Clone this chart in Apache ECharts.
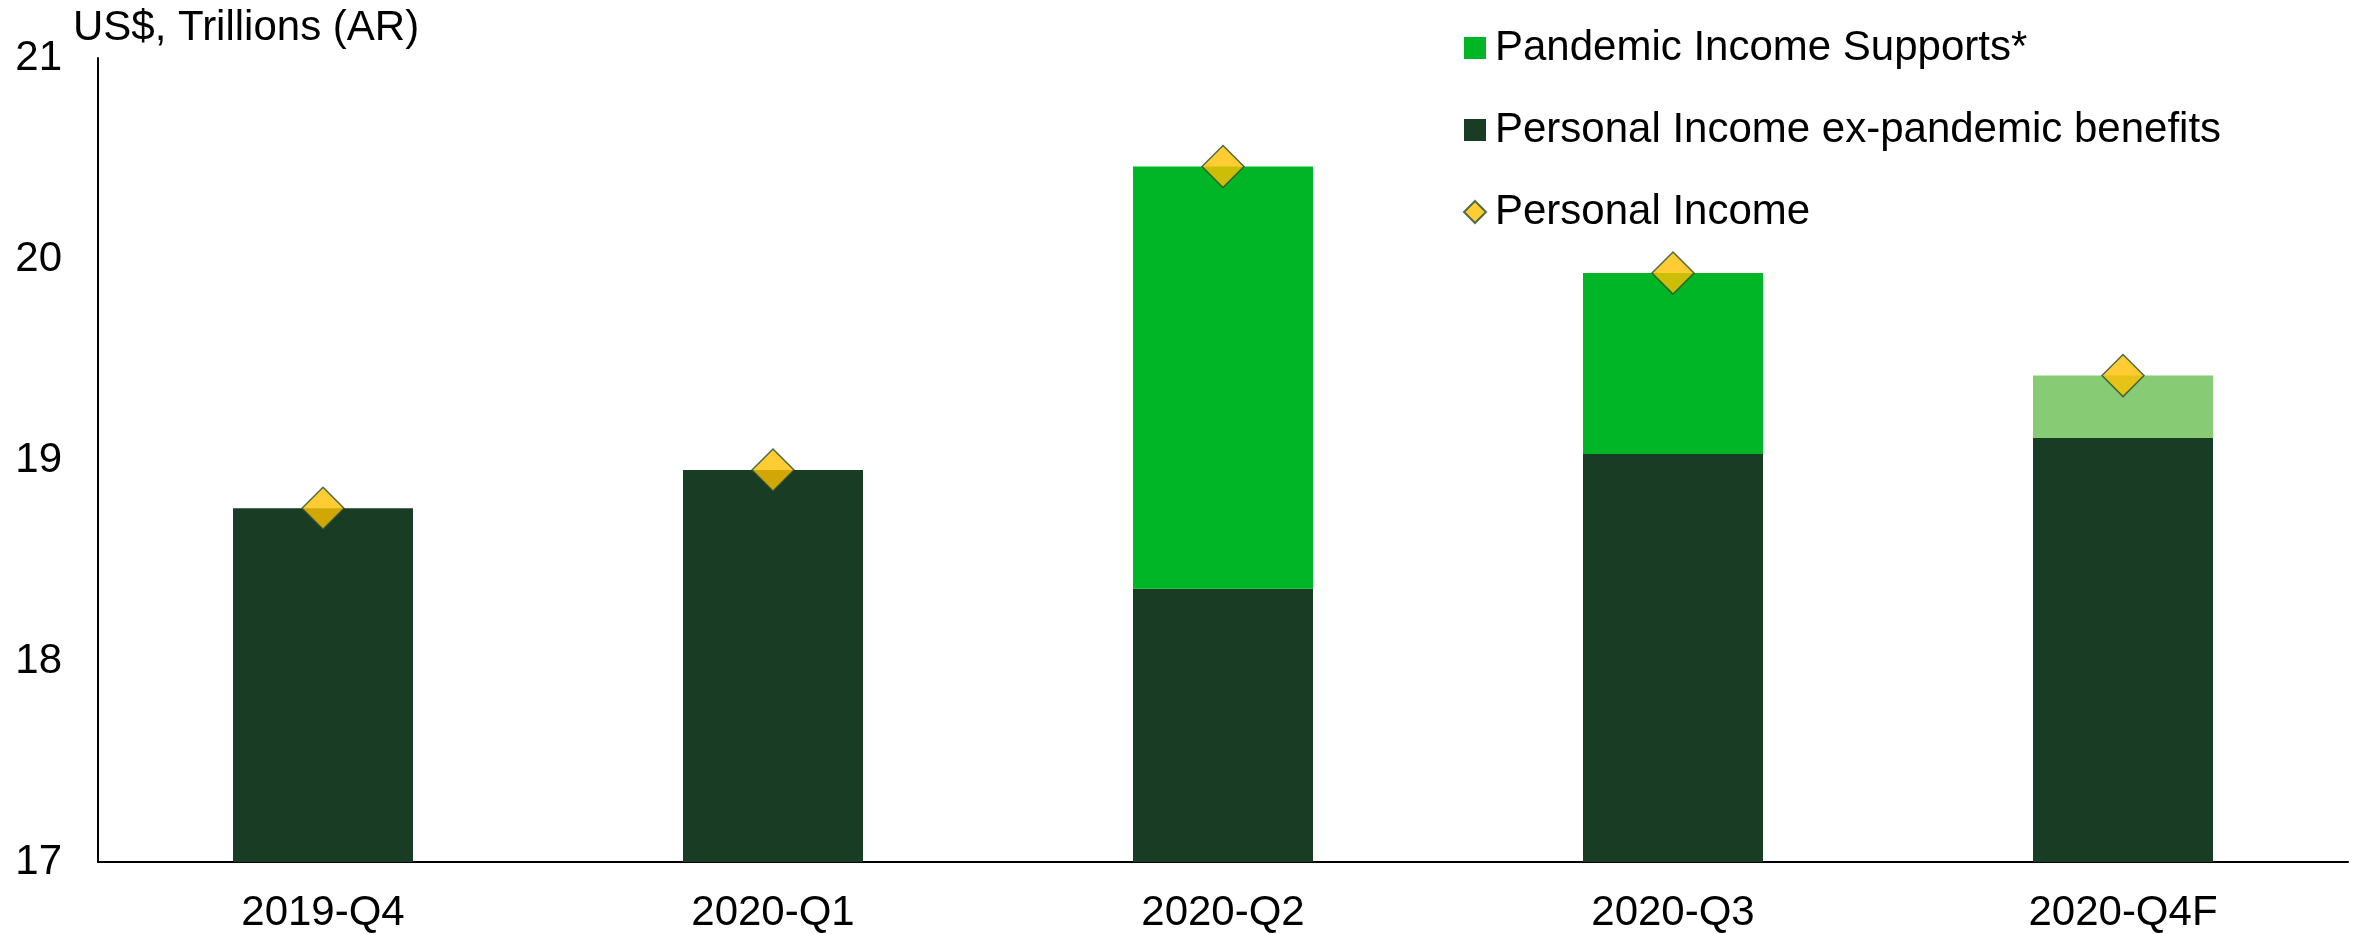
<!DOCTYPE html>
<html>
<head>
<meta charset="utf-8">
<title>Personal Income</title>
<script src="https://cdn.jsdelivr.net/npm/echarts@6/dist/echarts.min.js"></script>
<style>
  html, body { margin: 0; padding: 0; background: #fff; }
  #chart { width: 2369px; height: 934px; }
</style>
</head>
<body>
<div id="chart"></div>
<script>
const categories = ['2019-Q4', '2020-Q1', '2020-Q2', '2020-Q3', '2020-Q4F']
// US$ trillions, annual rate
const exPandemic = [18.76, 18.95, 18.36, 19.03, 19.11]
const pandemicSupports = [0, 0, 2.10, 0.90, 0.31]
const personalIncome = [18.76, 18.95, 20.46, 19.93, 19.42]
const yTicks = [17, 18, 19, 20, 21]

const DARK = '#193d24'
const GREEN = '#00b526'
const LIGHT_GREEN = '#88cb75' // forecast quarter
const GOLD = '#ffc000'
const FONT = { fontFamily: 'Liberation Sans, Arial, sans-serif', fontSize: 42, color: '#000' }

const myChart = echarts.init(document.getElementById('chart'))

const option = {
  animation: false,
  title: {
    text: 'US$, Trillions (AR)',
    left: 68,
    top: 2,
    textStyle: { ...FONT, fontWeight: 'normal' },
  },
  legend: {
    orient: 'vertical',
    left: 1458,
    top: 22,
    itemWidth: 22,
    itemHeight: 22,
    itemGap: 40,
    textStyle: { ...FONT, padding: [0, 0, 0, 4] },
    data: [
      { name: 'Pandemic Income Supports*', icon: 'rect', itemStyle: { color: GREEN } },
      { name: 'Personal Income ex-pandemic benefits', icon: 'rect' },
      { name: 'Personal Income', icon: 'diamond' },
    ],
  },
  grid: {
    left: 98,
    right: 21,
    top: 58,
    bottom: 72,
  },
  xAxis: {
    type: 'category',
    data: categories,
    axisTick: { show: false },
    axisLine: { lineStyle: { color: '#000', width: 2 } },
    axisLabel: { ...FONT, margin: 30 },
  },
  yAxis: {
    type: 'value',
    min: yTicks[0],
    max: yTicks[yTicks.length - 1],
    interval: 1,
    splitLine: { show: false },
    axisTick: { show: false },
    axisLine: { show: true, lineStyle: { color: '#000', width: 2 } },
    axisLabel: { ...FONT, margin: 36 },
  },
  series: [
    {
      name: 'Personal Income ex-pandemic benefits',
      type: 'bar',
      stack: 'pi',
      barWidth: '40%',
      itemStyle: { color: DARK },
      data: exPandemic,
    },
    {
      name: 'Pandemic Income Supports*',
      type: 'bar',
      stack: 'pi',
      barWidth: '40%',
      itemStyle: { color: GREEN },
      data: pandemicSupports.map((v, i) =>
        i === categories.length - 1 ? { value: v, itemStyle: { color: LIGHT_GREEN } } : v
      ),
    },
    {
      name: 'Personal Income',
      type: 'scatter',
      symbol: 'diamond',
      symbolSize: 42,
      itemStyle: { color: GOLD, borderColor: '#264d2e', borderWidth: 1.5 },
      z: 5,
      data: personalIncome,
    },
  ],
}

myChart.setOption(option)
</script>
</body>
</html>
